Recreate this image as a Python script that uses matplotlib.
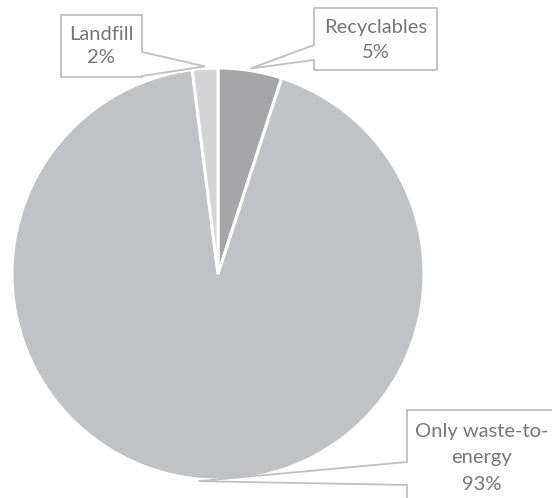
import numpy as np
import matplotlib
matplotlib.use("Agg")
import matplotlib.pyplot as plt
from matplotlib.patches import Polygon

categories = ["Recyclables", "Only waste-to-energy", "Landfill"]
label_lines = [["Recyclables", "5%"], ["Only waste-to-", "energy", "93%"], ["Landfill", "2%"]]
values = [5, 93, 2]
colors = ["#A6A6A9", "#C1C2C6", "#D4D4D6"]

W, H = 552, 498
fig = plt.figure(figsize=(W / 100, H / 100), dpi=100)
ax = fig.add_axes([0, 0, 1, 1])

cx, cy, r = 218, H - 274, 206
wedges, _ = ax.pie(values, colors=colors, startangle=90, counterclock=False,
                   center=(cx, cy), radius=r, frame=True,
                   wedgeprops=dict(edgecolor="white", linewidth=2.2))
ax.set_xlim(0, W)
ax.set_ylim(0, H)
ax.set_aspect("equal")
ax.axis("off")

# callout boxes (pixel coordinates from top)
boxes = [
    dict(x0=314, x1=437, y0=8, y1=70, side="left", b0=45, b1=60, tx=376, ty=[27, 52]),
    dict(x0=407, x1=600, y0=410, y1=560, side="left", b0=462, b1=485, tx=482, ty=[432, 458, 484]),
    dict(x0=61, x1=142, y0=15, y1=77, side="right", b0=52, b1=76, tx=101, ty=[34, 57]),
]

edge_col = "#BFBFBF"
text_col = "#767676"
for w, b, lines in zip(wedges, boxes, label_lines):
    ang = np.deg2rad((w.theta1 + w.theta2) / 2)
    tipx = cx + r * 1.01 * np.cos(ang)
    tipy = cy + r * 1.01 * np.sin(ang)
    x0, x1, y0, y1 = b["x0"], b["x1"], b["y0"], b["y1"]
    if b["side"] == "left":
        pts = [(x0, y0), (x1, y0), (x1, y1), (x0, y1), (x0, b["b1"]),
               None, (x0, b["b0"])]
    else:
        pts = [(x0, y0), (x1, y0), (x1, b["b0"]), None, (x1, b["b1"]),
               (x1, y1), (x0, y1)]
    poly = []
    for p in pts:
        if p is None:
            poly.append((tipx, tipy))
        else:
            poly.append((p[0], H - p[1]))
    ax.add_patch(Polygon(poly, closed=True, facecolor="white", edgecolor=edge_col,
                         linewidth=1.3, zorder=5, clip_on=True))
    for line, ty in zip(lines, b["ty"]):
        ax.text(b["tx"], H - ty, line, ha="center", va="center", fontsize=14.5,
                family=["Lato", "DejaVu Sans"], color=text_col, zorder=6)

fig.savefig("out.png", dpi=100)
